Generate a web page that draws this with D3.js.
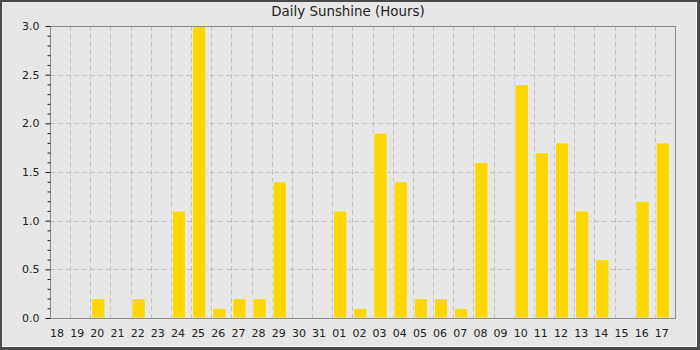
<!DOCTYPE html>
<html>
<head>
<meta charset="utf-8">
<script src="https://cdn.jsdelivr.net/npm/d3@7"></script>
<style>
  body { margin: 0; background: #fff; }
  text { font-family: "DejaVu Sans", sans-serif; }
</style>
</head>
<body>
<svg id="chart" width="700" height="350"></svg>
<script>
// days shown along the bottom
var days = ["18","19","20","21","22","23","24","25","26","27","28","29","30","31",
            "01","02","03","04","05","06","07","08","09","10","11","12","13","14","15","16","17"];
// hours of sunshine for each day
var hours = [0, 0, 0.2, 0, 0.2, 0, 1.1, 3.0, 0.1, 0.2, 0.2, 1.4, 0, 0,
             1.1, 0.1, 1.9, 1.4, 0.2, 0.2, 0.1, 1.6, 0, 2.4, 1.7, 1.8, 1.1, 0.6, 0, 1.2, 1.8];
var yTicks = [0, 0.5, 1.0, 1.5, 2.0, 2.5, 3.0];
var title = "Daily Sunshine (Hours)";

function main() {
    var svg = d3.select("#chart");
    var W = 700, H = 350;
    var left = 50, top = 26, right = 675, bottom = 318;

    // frame
    svg.append("rect").attr("width", W).attr("height", H).attr("fill", "#4a4a4a");
    svg.append("rect").attr("x", 2).attr("y", 2).attr("width", W - 5).attr("height", H - 5).attr("fill", "#ffffff");
    svg.append("rect").attr("x", 2).attr("y", 2).attr("width", W - 6).attr("height", H - 6).attr("fill", "#e6e6e6");

    svg.append("text")
        .attr("x", 348).attr("y", 16)
        .attr("text-anchor", "middle")
        .attr("font-size", 13.4)
        .attr("fill", "#222")
        .text(title);

    var x = d3.scaleBand().domain(days).range([left, right]).padding(0);
    var y = d3.scaleLinear().domain([0, 3]).range([bottom, top]);
    var bw = x.bandwidth() * 0.665;

    var data = days.map(function(d, i) { return {day: d, v: hours[i]}; });

    // grid
    var grid = svg.append("g").attr("stroke", "#c0c0c0").attr("stroke-dasharray", "5,3");
    grid.selectAll("line.v").data(days.slice(1)).enter().append("line")
        .attr("x1", d => Math.round(x(d)) + 0.5).attr("x2", d => Math.round(x(d)) + 0.5)
        .attr("y1", top).attr("y2", bottom);
    grid.selectAll("line.h").data(yTicks.slice(1, -1)).enter().append("line")
        .attr("x1", left).attr("x2", right)
        .attr("y1", d => Math.round(y(d)) + 0.5).attr("y2", d => Math.round(y(d)) + 0.5);

    // bars
    svg.append("g").selectAll("rect").data(data.filter(d => d.v > 0)).enter().append("rect")
        .attr("x", d => x(d.day) + 1.3)
        .attr("y", d => y(d.v))
        .attr("width", bw)
        .attr("height", d => y(0) - y(d.v))
        .attr("fill", "#ffd700")
        .attr("stroke", "#e2eefa")
        .attr("stroke-width", 1);

    // plot border
    svg.append("rect")
        .attr("x", left + 0.5).attr("y", top + 0.5)
        .attr("width", right - left).attr("height", bottom - top)
        .attr("fill", "none").attr("stroke", "#8c8c8c");

    // y axis, major + minor ticks
    var yAxis = svg.append("g").attr("transform", "translate(" + (left + 0.5) + ",0)")
        .call(d3.axisLeft(y).tickValues(yTicks).tickFormat(d3.format(".1f")).tickSize(5).tickPadding(6));
    yAxis.select(".domain").remove();
    yAxis.selectAll("line").attr("stroke", "#222");
    yAxis.selectAll("text").attr("font-size", 11).attr("fill", "#222").attr("font-family", "DejaVu Sans");

    var minor = d3.range(0, 31).map(d => d / 10).filter(d => Math.round(d * 10) % 5 !== 0);
    var yMinor = svg.append("g").attr("transform", "translate(" + (left + 0.5) + ",0)")
        .call(d3.axisLeft(y).tickValues(minor).tickFormat("").tickSize(3));
    yMinor.select(".domain").remove();
    yMinor.selectAll("line").attr("stroke", "#222");

    // x labels, centred on bars
    svg.append("g").selectAll("text").data(days).enter().append("text")
        .attr("x", d => x(d) + 1.3 + bw / 2 - 1)
        .attr("y", 337)
        .attr("text-anchor", "middle")
        .attr("font-size", 11)
        .attr("fill", "#222")
        .text(d => d);
}
main();
</script>
</body>
</html>
